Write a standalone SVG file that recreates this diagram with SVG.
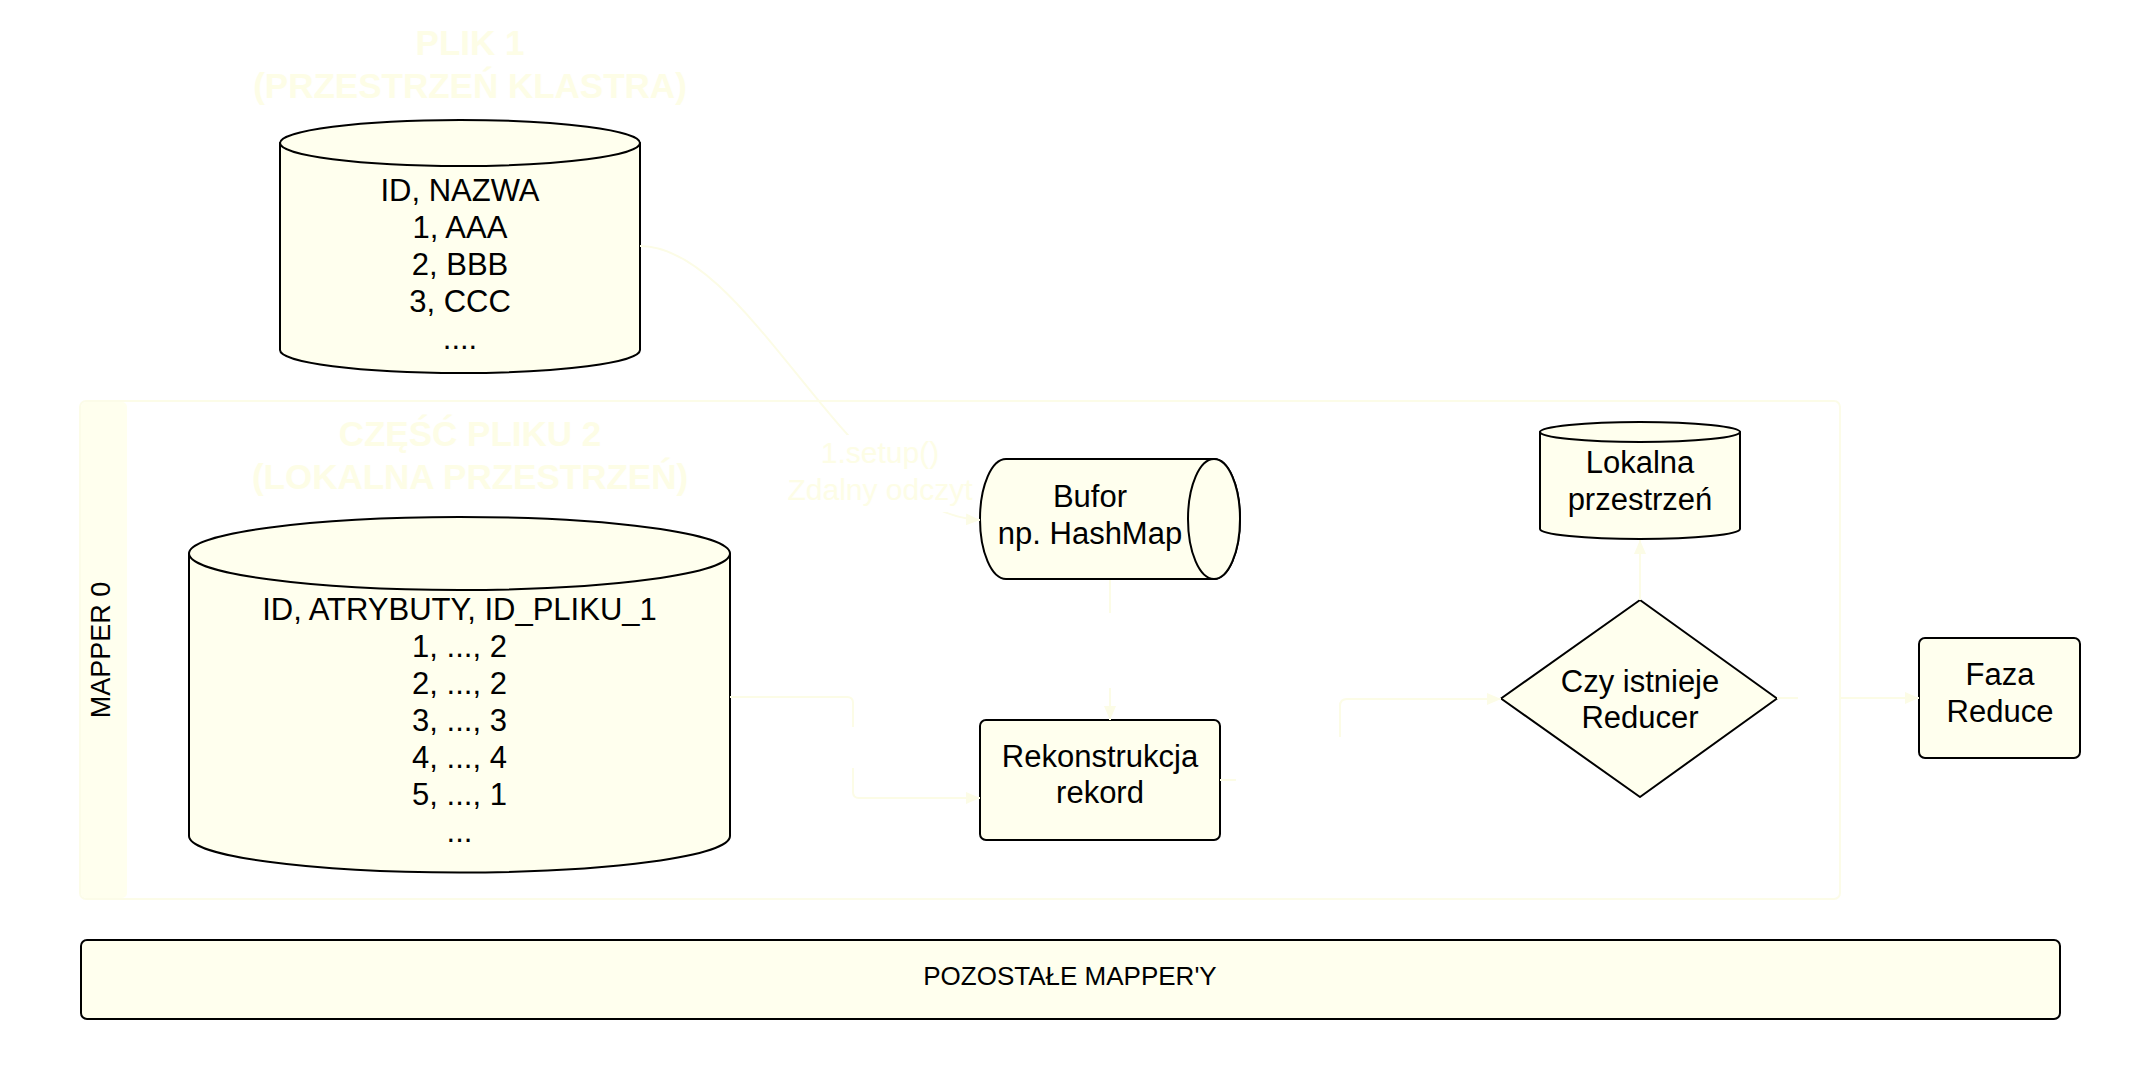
<svg xmlns="http://www.w3.org/2000/svg" width="2132" height="1074" viewBox="0 0 2132 1074">
<style>
  text { font-family: "Liberation Sans", Arial, sans-serif; font-size: 31px; fill: #000; text-anchor: middle; }
  .title { font-size: 35px; font-weight: bold; fill: #FDFDE6; }
  .lbl { fill: #FDFDE6; font-size: 30px; }
  .shape { fill: #FFFFEE; stroke: #000; stroke-width: 2; stroke-linejoin: round; }
  .cont { fill: #FFFFFF; stroke: #FCFCE8; stroke-width: 2; }
  .band { fill: #FFFFEE; stroke: none; }
  .conn { fill: none; stroke: #FCFCE6; stroke-width: 2; stroke-linejoin: round; }
</style>
<defs>
  <marker id="arr" viewBox="0 0 14 12" refX="14" refY="6" markerWidth="14" markerHeight="12" markerUnits="userSpaceOnUse" orient="auto">
    <path d="M0,0 L14,6 L0,12 z" fill="#FCFCE6"/>
  </marker>
  <mask id="lblmask" maskUnits="userSpaceOnUse" x="0" y="0" width="2132" height="1074">
    <rect x="0" y="0" width="2132" height="1074" fill="#fff"/>
    <rect x="780" y="435" width="196" height="77" fill="#000"/>
  </mask>
</defs>
<rect width="2132" height="1074" fill="#FFFFFF"/>

<g id="mapper0">
  <rect class="cont" x="80" y="401" width="1760" height="498" rx="6"/>
  <rect class="band" x="81" y="402" width="46" height="496" rx="5"/>
  <text transform="translate(110,650) rotate(-90)" style="font-size:27px">MAPPER 0</text>
  <text class="title" x="470" y="446">CZĘŚĆ PLIKU 2</text>
  <text class="title" x="470" y="489">(LOKALNA PRZESTRZEŃ)</text>
</g>

<g id="plik1">
  <text class="title" x="470" y="55">PLIK 1</text>
  <text class="title" x="470" y="98">(PRZESTRZEŃ KLASTRA)</text>
  <path class="shape" d="M280,143 V350 A180,23 0 0 0 640,350 V143 Z"/>
  <ellipse class="shape" cx="460" cy="143" rx="180" ry="23"/>
  <text x="460" y="201">ID, NAZWA</text>
  <text x="460" y="238">1, AAA</text>
  <text x="460" y="275">2, BBB</text>
  <text x="460" y="312">3, CCC</text>
  <text x="460" y="349">....</text>
</g>

<g id="plik2">
  <path class="shape" d="M189,553.5 V836 A270.5,36.5 0 0 0 730,836 V553.5 Z"/>
  <ellipse class="shape" cx="459.5" cy="553.5" rx="270.5" ry="36.5"/>
  <text x="459.5" y="620">ID, ATRYBUTY, ID_PLIKU_1</text>
  <text x="459.5" y="657">1, ..., 2</text>
  <text x="459.5" y="694">2, ..., 2</text>
  <text x="459.5" y="731">3, ..., 3</text>
  <text x="459.5" y="768">4, ..., 4</text>
  <text x="459.5" y="805">5, ..., 1</text>
  <text x="459.5" y="842">...</text>
</g>

<g id="bufor">
  <path class="shape" d="M1006,459 H1214 A26,60 0 0 1 1214,579 H1006 A26,60 0 0 1 1006,459 Z"/>
  <ellipse class="shape" cx="1214" cy="519" rx="26" ry="60"/>
  <text x="1090" y="507">Bufor</text>
  <text x="1090" y="544">np. HashMap</text>
</g>

<g id="rekonstrukcja">
  <rect class="shape" x="980" y="720" width="240" height="120" rx="6"/>
  <text x="1100" y="767">Rekonstrukcja</text>
  <text x="1100" y="803">rekord</text>
</g>

<g id="lokalna">
  <path class="shape" d="M1540,432 V529 A100,10 0 0 0 1740,529 V432 Z"/>
  <ellipse class="shape" cx="1640" cy="432" rx="100" ry="10"/>
  <text x="1640" y="473">Lokalna</text>
  <text x="1640" y="510">przestrzeń</text>
</g>

<g id="czy-istnieje">
  <path class="shape" d="M1501,698.5 L1640,600 L1777,698.5 L1640,797 Z"/>
  <text x="1640" y="692">Czy istnieje</text>
  <text x="1640" y="728">Reducer</text>
</g>

<g id="faza-reduce">
  <rect class="shape" x="1919" y="638" width="161" height="120" rx="6"/>
  <text x="2000" y="685">Faza</text>
  <text x="2000" y="722">Reduce</text>
</g>

<g id="pozostale">
  <rect class="shape" x="81" y="940" width="1979" height="79" rx="6"/>
  <text x="1070" y="985" style="font-size:26px">POZOSTAŁE MAPPER'Y</text>
</g>

<g id="connectors">
  <path class="conn" mask="url(#lblmask)" d="M640,246 C750,246 850,515 980,520" marker-end="url(#arr)"/>
  <text class="lbl" x="880" y="463">1.setup()</text>
  <text class="lbl" x="880" y="500">Zdalny odczyt</text>
  <path class="conn" d="M1110,580 V613 M1110,688 V720" marker-end="url(#arr)"/>
  <path class="conn" d="M730,697 H847 Q853,697 853,703 V727 M853,768 V792 Q853,798 859,798 H980" marker-end="url(#arr)"/>
  <path class="conn" d="M1220,780 H1236 M1340,737 V706 Q1340,699 1347,699 H1501" marker-end="url(#arr)"/>
  <path class="conn" d="M1640,600 V540" marker-end="url(#arr)"/>
  <path class="conn" d="M1777,698 H1798 M1840,698 H1919" marker-end="url(#arr)"/>
</g>
</svg>
